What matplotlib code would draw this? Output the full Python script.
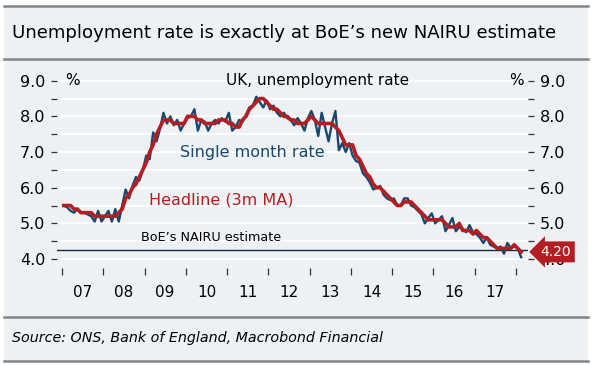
import numpy as np
import matplotlib
matplotlib.use("Agg")
import matplotlib.pyplot as plt
from matplotlib.patches import Rectangle
from matplotlib.lines import Line2D
from matplotlib.ticker import FixedLocator, NullFormatter
import matplotlib.transforms as mtransforms

plt.rcParams['font.family'] = ['DejaVu Sans']

# monthly data, Jan 2007 - Feb 2018
single_month = [
    5.5, 5.45, 5.35, 5.3, 5.4, 5.3, 5.3, 5.25, 5.2, 5.05, 5.35, 5.05,     # 2007
    5.2, 5.35, 5.05, 5.4, 5.05, 5.5, 5.95, 5.7, 6.05, 6.3, 6.2, 6.5,      # 2008
    6.9, 6.8, 7.55, 7.3, 7.65, 8.1, 7.8, 8.0, 7.75, 7.9, 7.6, 7.8,        # 2009
    7.95, 8.0, 8.2, 7.6, 7.9, 7.85, 7.6, 7.8, 7.9, 7.8, 7.95, 7.85,       # 2010
    8.1, 7.6, 7.7, 7.9, 7.85, 8.05, 8.25, 8.3, 8.55, 8.4, 8.25, 8.45,     # 2011
    8.2, 8.3, 8.1, 8.0, 8.1, 7.95, 7.9, 7.75, 7.95, 7.8, 7.6, 7.95,       # 2012
    8.15, 7.9, 7.45, 8.1, 7.7, 7.3, 7.8, 8.15, 7.05, 7.25, 7.0, 7.25,     # 2013
    6.9, 6.75, 6.7, 6.4, 6.3, 6.15, 5.95, 6.0, 6.05, 5.8, 5.7, 5.65,      # 2014
    5.7, 5.5, 5.5, 5.7, 5.7, 5.5, 5.45, 5.35, 5.25, 5.0, 5.15, 5.28,      # 2015
    5.0, 5.1, 5.2, 4.78, 4.95, 5.15, 4.78, 4.9, 4.85, 4.75, 4.95, 4.75,   # 2016
    4.7, 4.6, 4.45, 4.6, 4.4, 4.35, 4.3, 4.35, 4.15, 4.45, 4.3, 4.35,     # 2017
    4.3, 4.05,                                                            # 2018
]
headline = [
    5.5, 5.5, 5.5, 5.4, 5.4, 5.3, 5.3, 5.3, 5.3, 5.2, 5.2, 5.2,
    5.2, 5.2, 5.2, 5.2, 5.3, 5.4, 5.7, 5.8, 6.0, 6.1, 6.3, 6.5,
    6.7, 7.0, 7.2, 7.5, 7.7, 7.9, 7.9, 7.9, 7.8, 7.8, 7.8, 7.8,
    8.0, 8.0, 8.0, 7.9, 7.9, 7.8, 7.8, 7.8, 7.8, 7.9, 7.9, 7.9,
    7.8, 7.8, 7.7, 7.7, 7.9, 8.0, 8.2, 8.3, 8.4, 8.5, 8.5, 8.4,
    8.3, 8.2, 8.2, 8.1, 8.0, 8.0, 7.9, 7.9, 7.8, 7.8, 7.8, 7.9,
    8.0, 7.9, 7.8, 7.8, 7.8, 7.8, 7.8, 7.7, 7.6, 7.4, 7.2, 7.2,
    7.2, 6.9, 6.8, 6.6, 6.4, 6.3, 6.1, 6.0, 6.0, 5.9, 5.8, 5.7,
    5.6, 5.5, 5.5, 5.6, 5.6, 5.6, 5.5, 5.4, 5.3, 5.2, 5.1, 5.1,
    5.1, 5.1, 5.1, 5.0, 4.9, 4.9, 4.9, 5.0, 4.8, 4.8, 4.8, 4.7,
    4.8, 4.7, 4.6, 4.6, 4.5, 4.4, 4.3, 4.3, 4.3, 4.3, 4.3, 4.4,
    4.3, 4.2,
]
start_year = 2007
years = list(range(2007, 2018))
year_labels = ['07', '08', '09', '10', '11', '12', '13', '14', '15', '16', '17']
nairu = 4.25
latest = 4.20

BG = '#eef1f3'
BLUE = '#17486f'
RED = '#b41e23'
GREY = '#858585'

W, H = 595, 365
fig = plt.figure(figsize=(W / 100, H / 100), dpi=100, facecolor='white')

def fx(px):
    return px / W

def fy(py):
    return 1 - py / H

# background panel and separator lines
fig.add_artist(Rectangle((fx(4), fy(361)), fx(584), (361 - 5) / H,
                         transform=fig.transFigure, facecolor=BG, edgecolor='none', zorder=0))
for yy in [5.5, 59, 317, 361]:
    fig.add_artist(Line2D([fx(4), fx(588)], [fy(yy), fy(yy)], transform=fig.transFigure,
                          color=GREY, lw=1.8, zorder=1))

fig.text(fx(12), fy(33), "Unemployment rate is exactly at BoE\u2019s new NAIRU estimate",
         fontsize=13.1, va='center', ha='left', color='black')
fig.text(fx(12), fy(338), "Source: ONS, Bank of England, Macrobond Financial",
         fontsize=10.3, style='italic', va='center', ha='left', color='black')

ax = fig.add_axes([fx(57), fy(268), fx(528) - fx(57), (268 - 70) / H])
ax.set_facecolor(BG)
ax.patch.set_alpha(0)

n = len(single_month)
x = start_year + (np.arange(n) + 0.5) / 12

ax.set_xlim(2006.879, 2018.291)
ax.set_ylim(3.748, 9.30)

for v in np.arange(4.0, 9.01, 0.5):
    ax.axhline(v, color='white', lw=1.3, zorder=1)

ax.axhline(nairu, color='#1b2a48', lw=1.0, zorder=2)
ax.plot(x, single_month, color=BLUE, lw=1.7, zorder=3, solid_joinstyle='round')
ax.plot(x, headline, color=RED, lw=2.6, zorder=4, solid_joinstyle='round')

for s in ax.spines.values():
    s.set_visible(False)

# y axis both sides
ax.yaxis.set_major_locator(FixedLocator([4, 5, 6, 7, 8, 9]))
ax.yaxis.set_minor_locator(FixedLocator([4.5, 5.5, 6.5, 7.5, 8.5]))
ax.set_yticklabels(['4.0', '5.0', '6.0', '7.0', '8.0', '9.0'])
ax.tick_params(axis='y', which='both', left=True, right=True, labelleft=True, labelright=True,
               direction='out', length=4.5, width=0.9, color='#333333', pad=4, labelsize=11.5)

# x axis: year ticks at year boundaries, labels between
ax.xaxis.set_major_locator(FixedLocator(list(range(2007, 2019))))
ax.xaxis.set_major_formatter(NullFormatter())
ax.xaxis.set_minor_locator(FixedLocator([yr + 0.5 for yr in years]))
ax.xaxis.set_minor_formatter(matplotlib.ticker.FixedFormatter(year_labels))
ax.tick_params(axis='x', which='major', direction='out', length=5, width=0.9, color='#333333')
ax.tick_params(axis='x', which='minor', length=0, pad=12, labelsize=11)

ax.text(2007.08, 9.0, '%', fontsize=11, va='center', ha='left')
ax.text(2018.2, 9.0, '%', fontsize=11, va='center', ha='right')
ax.text(2013.2, 9.0, 'UK, unemployment rate', fontsize=11, va='center', ha='center')
ax.text(2011.6, 7.0, 'Single month rate', fontsize=11.5, color=BLUE, va='center', ha='center')
ax.text(2010.85, 5.65, 'Headline (3m MA)', fontsize=11.5, color=RED, va='center', ha='center')
ax.text(2010.6, 4.6, 'BoE\u2019s NAIRU estimate', fontsize=9.2, color='black', va='center', ha='center')

trans = mtransforms.blended_transform_factory(ax.transAxes, ax.transData)
ax.text((556 - 57) / 471, latest, '%.2f' % latest, transform=trans, fontsize=10, color='white',
        va='center', ha='center', clip_on=False, zorder=10,
        bbox=dict(boxstyle='larrow,pad=0.25', facecolor=RED, edgecolor='none'))

fig.savefig('out.png', dpi=100, facecolor='white')
